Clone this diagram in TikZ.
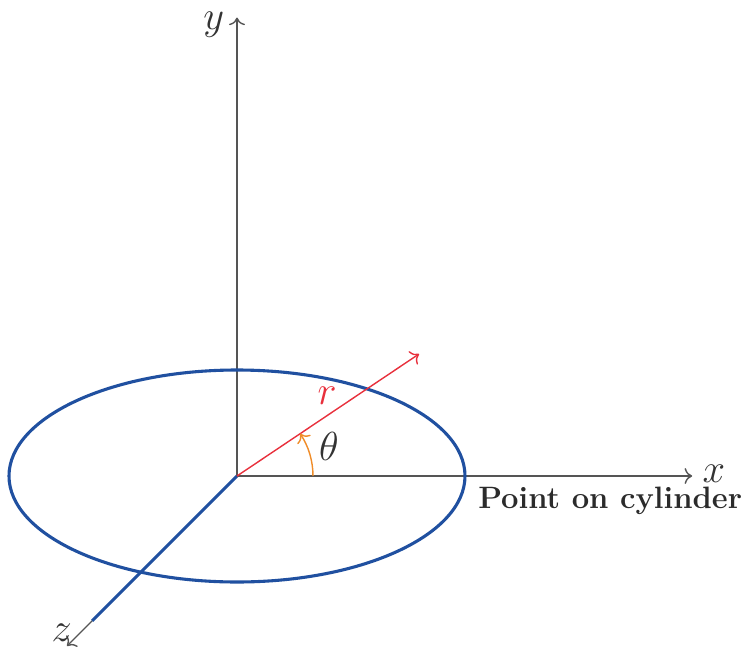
\documentclass[tikz,border=0pt]{standalone}
\usepackage{tikz}
\usetikzlibrary{positioning,arrows.meta,calc}
\definecolor{axisgray}{HTML}{555555}
\definecolor{cylblue}{HTML}{2050A0}
\definecolor{radred}{HTML}{E8303C}
\definecolor{angorange}{HTML}{F08C28}

\begin{document}
\begin{tikzpicture}[x=1cm,y=1cm]
\useasboundingbox (-2.9625,-2.15) rectangle (6.4125,5.95);
\coordinate (O) at (0,0);
\coordinate (xend) at (5.69,0);
\coordinate (yend) at (0,5.73);
\coordinate (zend) at (-2.125,-2.125);
\coordinate (zcut) at (-1.81,-1.81);
\coordinate (rend) at (2.275,1.525);
\coordinate (rim) at (2.85,0);
% axes
\draw[axisgray, line width=0.5pt, ->] (O) -- (yend);
\draw[axisgray, line width=0.5pt, ->] (O) -- (xend);
\draw[axisgray, line width=0.5pt, ->] (O) -- (zend);
\draw[cylblue, line width=1.1pt] (O) -- (zcut);
% cylinder base
\draw[cylblue, line width=1.1pt] (O) ellipse (2.85 and 1.325);
% radius and angle
\draw[radred, line width=0.5pt, ->] (O) -- (rend);
\draw[angorange, line width=0.5pt, ->] (0.95,0) arc (0:33.8:0.95);
\node[axisgray!60!black] (xlab) at (5.96,0.03) {\Large $x$};
\node[axisgray!60!black] (ylab) at (-0.29,5.64) {\Large $y$};
\node[axisgray!60!black] (zlab) at (-2.19,-1.96) {\Large $z$};
\node[radred] (rlab) at (1.125,1.0) {\Large $r$};
\node[axisgray!60!black] (thlab) at (1.15,0.37) {\Large $\theta$};
\node[below right=0.13cm and 0.16cm of rim, anchor=north west, inner sep=0pt, axisgray!50!black] (ptlab) {\fontsize{11}{13}\selectfont\bfseries Point on cylinder};
\end{tikzpicture}
\end{document}
